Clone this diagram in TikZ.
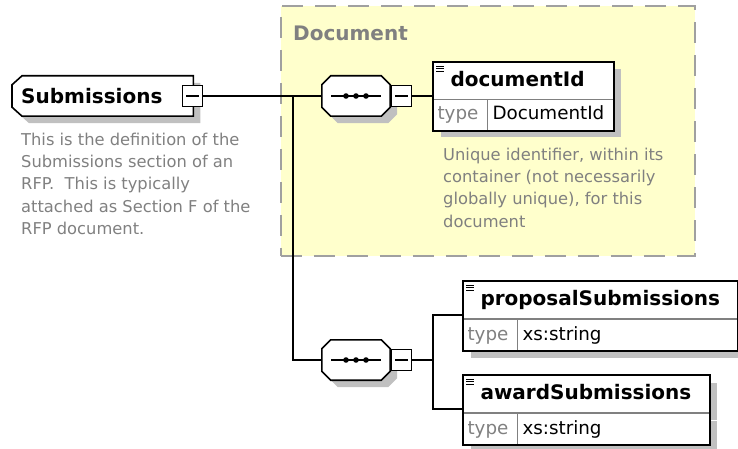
\documentclass[tikz,border=0pt]{standalone}
\usepackage{fontspec}
\setmainfont{DejaVu Sans}
\usetikzlibrary{shadows}
\definecolor{docyellow}{RGB}{255,255,204}
\definecolor{dashgrey}{RGB}{160,160,160}
\definecolor{shadegrey}{RGB}{192,192,192}
\definecolor{notegrey}{RGB}{128,128,128}
\newcommand\titlefont{\fontsize{20pt}{24pt}\selectfont\bfseries}
\newcommand\cellfont{\fontsize{18.3pt}{22pt}\selectfont}
\newcommand\notefont{\fontsize{16.3pt}{22.2pt}\selectfont}
\newcommand\seqpath[1]{([xshift=9pt]#1.north west) -- ([xshift=-9pt]#1.north east)
  -- ([yshift=-9pt]#1.north east) -- ([yshift=9pt]#1.south east)
  -- ([xshift=-9pt]#1.south east) -- ([xshift=9pt]#1.south west)
  -- ([yshift=9pt]#1.south west) -- ([yshift=-9pt]#1.north west) -- cycle}
\newcommand\rootpath[1]{([xshift=10pt]#1.north west) -- (#1.north east)
  -- (#1.south east) -- ([xshift=10pt]#1.south west)
  -- ([yshift=9pt]#1.south west) -- ([yshift=-9pt]#1.north west) -- cycle}
\pgfdeclarelayer{back}
\pgfdeclarelayer{outline}
\pgfsetlayers{back,outline,main}
\begin{document}
\begin{tikzpicture}[x=1pt,y=-1pt,
  conn/.style={line width=1.6pt},
  boxshadow/.style={drop shadow={shadow xshift=7pt,shadow yshift=-7pt,fill=shadegrey,opacity=1}},
  outshadow/.style={fill=shadegrey,transform canvas={xshift=7pt,yshift=-7pt}},
  outbox/.style={draw,fill=white,line width=1.6pt,line join=miter},
  rootbox/.style={minimum height=40pt,inner xsep=9pt,text width=163pt,align=left,font=\titlefont},
  seqbox/.style={minimum width=68pt,minimum height=40pt,
    path picture={
      \draw[line width=1.4pt] ([xshift=-25pt]path picture bounding box.center)
        -- ([xshift=25pt]path picture bounding box.center);
      \foreach \dx in {-10,0,10}
        \fill ([xshift=\dx pt]path picture bounding box.center) circle (2.8pt);}},
  minusbox/.style={draw,fill=white,line width=1.6pt,minimum width=20pt,minimum height=21pt,inner sep=0pt,
    path picture={\draw[line width=1.3pt] ([xshift=-6.5pt]path picture bounding box.center)
      -- ([xshift=6.5pt]path picture bounding box.center);}},
  groupbox/.style={draw=dashgrey,fill=docyellow,line width=1.6pt,dash pattern=on 21pt off 12pt,
    anchor=north west,minimum width=414pt,minimum height=250pt,inner sep=0pt},
  grouptitle/.style={anchor=west,inner sep=0pt,font=\titlefont,text=notegrey},
  elname/.style={draw=notegrey,fill=white,line width=1pt,boxshadow,anchor=north west,
    minimum height=37pt,inner xsep=17pt,inner ysep=0pt,align=left,font=\titlefont,
    text height=15pt,text depth=4pt},
  typecell/.style={draw=notegrey,fill=white,line width=1pt,boxshadow,anchor=north west,
    minimum height=31pt,inner xsep=4pt,inner ysep=0pt,align=left,font=\cellfont,
    text height=14pt,text depth=4pt,text width=46pt,text=notegrey},
  valcell/.style={typecell,text=black,inner xsep=5pt},
  elframe/.style={draw,line width=1.6pt},
  note/.style={anchor=north west,align=left,inner sep=0pt,font=\notefont,text=notegrey}]
 \useasboundingbox (0,0) rectangle (738,449);
 \begin{pgfonlayer}{back}
  \node[groupbox] (docgrp) at (280,5) {};
 \end{pgfonlayer}
 \node[grouptitle] (docttl) at (293,33) {Document};

 \node[rootbox,anchor=west] (root) at (12,96) {Submissions};
 \node[minusbox] (subm) at (192.5,96) {};
 \node[note] (rootnote) at (21,133) {This is the definition of the\\Submissions section of an\\RFP.~ This is typically\\attached as Section F of the\\RFP document.};

 \node[seqbox] (seq1) at (356,96) {};
 \node[minusbox] (seq1m) at (401.5,96) {};
 \node[elname,text width=146pt] (docid) at (433,62) {documentId};
 \node[typecell] (docidt) at (433,99) {type};
 \node[valcell,text width=116pt] (docidv) at (487,99) {DocumentId};
 \draw[elframe] (docid.north west) rectangle (docidv.south east);
 \node[note] (docidnote) at (443,148) {Unique identifier, within its\\container (not necessarily\\globally unique), for this\\document};

 \node[seqbox] (seq2) at (356,360) {};
 \node[minusbox] (seq2m) at (401.5,360) {};
 \node[elname,text width=240pt] (prop) at (463,281) {proposalSubmissions};
 \node[typecell] (propt) at (463,319) {type};
 \node[valcell,text width=210pt] (propv) at (517,319) {xs:string};
 \draw[elframe] (prop.north west) rectangle (propv.south east);
 \node[elname,text width=212pt] (award) at (463,375) {awardSubmissions};
 \node[typecell] (awardt) at (463,413) {type};
 \node[valcell,text width=182pt] (awardv) at (517,413) {xs:string};
 \draw[elframe] (award.north west) rectangle (awardv.south east);

 \begin{pgfonlayer}{outline}
  \fill[outshadow] \rootpath{root};
  \path[outbox] \rootpath{root};
  \foreach \s in {seq1,seq2} {
    \fill[outshadow] \seqpath{\s};
    \path[outbox] \seqpath{\s};
  }
 \end{pgfonlayer}

 \coordinate (fork1) at (293,96);
 \coordinate (fork2) at (433,360);
 \draw[conn] (subm.east) -- (seq1.west);
 \draw[conn] (fork1) |- (seq2.west);
 \draw[conn] (seq1m.east) -- (seq1m.east -| docid.west);
 \draw[conn] (seq2m.east) -- (fork2);
 \draw[conn] (fork2) |- ([yshift=4pt]prop.south west);
 \draw[conn] (fork2) |- ([yshift=4pt]award.south west);

 \foreach \el in {docid,prop,award}
   \foreach \dy in {4,6.7,9.4}
     \draw[line width=0.9pt] ([shift={(3,\dy)}]\el.north west) -- ++(8,0);
\end{tikzpicture}
\end{document}
